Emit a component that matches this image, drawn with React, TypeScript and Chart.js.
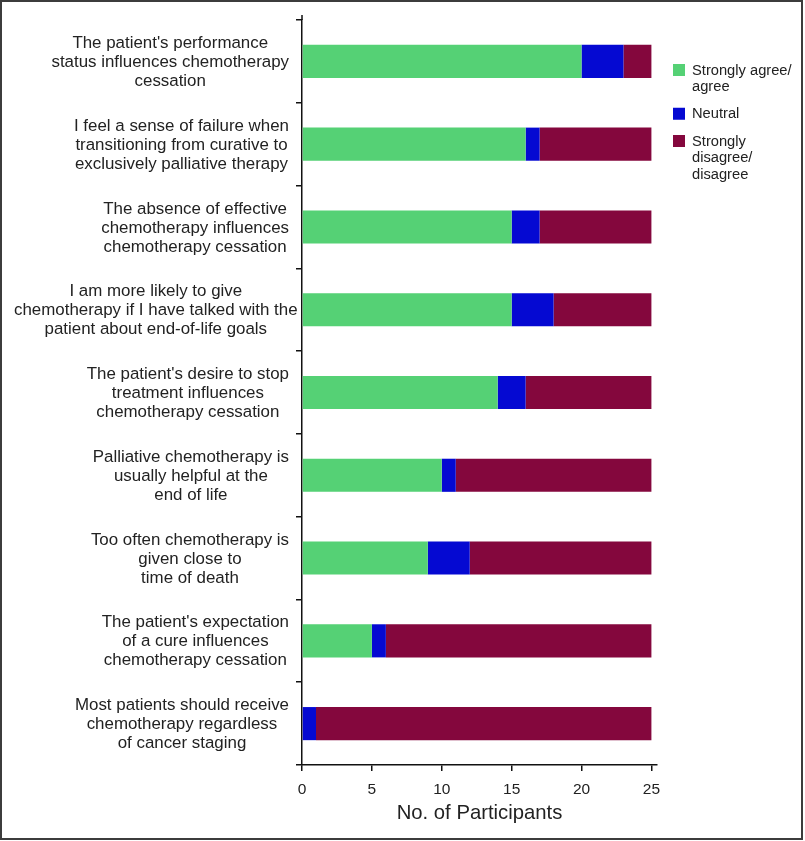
import { useEffect, useRef } from "react";
import { Chart, registerables } from "chart.js";

Chart.register(...registerables);

const categories: string[][] = [
  ["The patient's performance", "status influences chemotherapy", "cessation"],
  ["I feel a sense of failure when", "transitioning from curative to", "exclusively palliative therapy"],
  ["The absence of effective", "chemotherapy influences", "chemotherapy cessation"],
  ["I am more likely to give", "chemotherapy if I have talked with the", "patient about end-of-life goals"],
  ["The patient's desire to stop", "treatment influences", "chemotherapy cessation"],
  ["Palliative chemotherapy is", "usually helpful at the", "end of life"],
  ["Too often chemotherapy is", "given close to", "time of death"],
  ["The patient's expectation", "of a cure influences", "chemotherapy cessation"],
  ["Most patients should receive", "chemotherapy regardless", "of cancer staging"],
];

const agree = [20, 16, 15, 15, 14, 10, 9, 5, 0];
const neutral = [3, 1, 2, 3, 2, 1, 3, 1, 1];
const disagree = [2, 8, 8, 7, 9, 14, 13, 19, 24];

const seriesNames: string[][] = [["Strongly agree/", "agree"], ["Neutral"], ["Strongly", "disagree/", "disagree"]];
const seriesColors = ["#55D175", "#0509D2", "#84073D"];
const xTicks = [0, 5, 10, 15, 20, 25];
const axisTitle = "No. of Participants";

const FONT = '"Liberation Sans", Arial, Helvetica, sans-serif';

// Category labels: each label block right-aligned next to the axis, lines centred within the block
const categoryLabels = {
  id: "categoryLabels",
  afterDraw(chart: any) {
    const ctx = chart.ctx as CanvasRenderingContext2D;
    const ys = chart.scales.y;
    const right = ys.right - 13;
    const minLeft = 14;
    ctx.save();
    ctx.font = `16.9px ${FONT}`;
    ctx.fillStyle = "#222";
    ctx.textBaseline = "middle";
    ctx.textAlign = "center";
    const lh = 19;
    categories.forEach((lines, i) => {
      const yc = ys.getPixelForValue(i);
      const widest = Math.max(...lines.map((l) => ctx.measureText(l).width));
      const cx = Math.max(right - widest / 2, minLeft + widest / 2);
      lines.forEach((l, k) => {
        ctx.fillText(l, cx, yc + (k - (lines.length - 1) / 2) * lh + 1);
      });
    });
    // small extension of the value-axis line above the first category
    ctx.strokeStyle = "#111";
    ctx.lineWidth = 1.5;
    ctx.beginPath();
    ctx.moveTo(chart.chartArea.left, chart.chartArea.top - 5);
    ctx.lineTo(chart.chartArea.left, chart.chartArea.top);
    ctx.stroke();
    ctx.restore();
  },
};

const sideLegend = {
  id: "sideLegend",
  afterDraw(chart: any) {
    const ctx = chart.ctx as CanvasRenderingContext2D;
    const area = chart.chartArea;
    const x0 = area.right + 16;
    let y = area.top + 44;
    const lh = 16.5;
    ctx.save();
    ctx.font = `14.7px ${FONT}`;
    ctx.textBaseline = "middle";
    ctx.textAlign = "left";
    seriesNames.forEach((lines, i) => {
      ctx.fillStyle = seriesColors[i];
      ctx.fillRect(x0, y, 12, 12);
      ctx.fillStyle = "#222";
      lines.forEach((t, k) => ctx.fillText(t, x0 + 19, y + 6.5 + k * lh));
      y += lines.length * lh + 10.75;
    });
    ctx.restore();
  },
};

export default function App() {
  const ref = useRef<HTMLCanvasElement>(null);
  useEffect(() => {
    if (!ref.current) return;
    const chart = new Chart(ref.current, {
      type: "bar",
      data: {
        labels: categories.map((c) => c.join(" ")),
        datasets: [agree, neutral, disagree].map((d, i) => ({
          label: seriesNames[i].join(" "),
          data: d,
          backgroundColor: seriesColors[i],
          borderWidth: 0,
          categoryPercentage: 1,
          barPercentage: 0.4,
        })),
      },
      options: {
        indexAxis: "y",
        animation: false,
        responsive: false,
        maintainAspectRatio: false,
        layout: { padding: { top: 20, right: 148, bottom: 0, left: 0 } },
        plugins: { legend: { display: false }, tooltip: { enabled: false } },
        scales: {
          x: {
            stacked: true,
            min: 0,
            max: 25.4,
            afterBuildTicks: (s: any) => {
              s.ticks = xTicks.map((v) => ({ value: v }));
            },
            afterFit: (s: any) => {
              s.height = 76;
              s.paddingLeft = 0;
              s.paddingRight = 0;
            },
            grid: { drawOnChartArea: false, drawTicks: true, tickLength: 6, color: "#111", lineWidth: 1.5 },
            border: { display: true, color: "#111", width: 1.5 },
            ticks: { font: { family: FONT, size: 15.5 }, color: "#222", padding: 9, maxRotation: 0 },
            title: {
              display: true,
              text: axisTitle,
              font: { family: FONT, size: 20.3 },
              color: "#222",
              padding: { top: 0, bottom: 15 },
            },
          },
          y: {
            stacked: true,
            afterFit: (s: any) => {
              s.width = 302;
              s.paddingTop = 0;
              s.paddingBottom = 0;
            },
            grid: { drawOnChartArea: false, drawTicks: true, tickLength: 6, color: "#111", lineWidth: 1.5, offset: true },
            border: { display: true, color: "#111", width: 1.5 },
            ticks: { display: false, autoSkip: false },
          },
        },
      },
      plugins: [categoryLabels, sideLegend],
    });
    return () => chart.destroy();
  }, []);

  return (
    <div style={{ position: "fixed", left: 0, top: 0, width: 805, height: 841, background: "#fff" }}>
      <canvas ref={ref} width={805} height={841} style={{ position: "absolute", left: 0, top: 0, width: 805, height: 841 }} />
      <div
        style={{
          position: "absolute",
          left: 0,
          top: 0,
          width: 803,
          height: 840,
          border: "2px solid #3c3c3c",
          boxSizing: "border-box",
          pointerEvents: "none",
        }}
      />
    </div>
  );
}
